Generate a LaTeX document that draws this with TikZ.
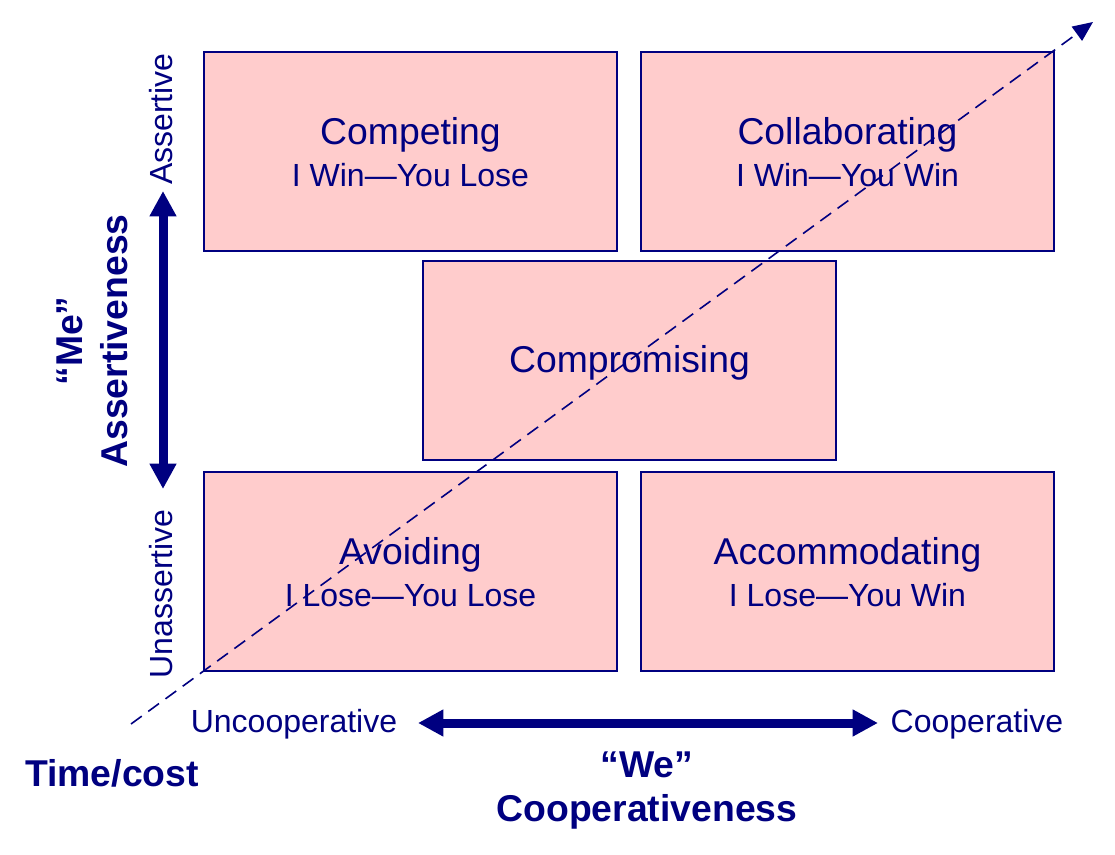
\documentclass[tikz,border=0pt]{standalone}
\usepackage{fontspec}
\setmainfont{Liberation Sans}
\usetikzlibrary{arrows.meta}
\definecolor{navy}{RGB}{0,0,128}
\definecolor{pinkfill}{RGB}{255,204,204}
\tikzset{
  qbox/.style={draw=navy, fill=pinkfill, line width=1.75pt, minimum width=309.75pt, minimum height=149.25pt, inner sep=0pt},
  titletext/.style={text=navy, font=\fontsize{28}{32}\selectfont, anchor=base, inner sep=0pt},
  subtext/.style={text=navy, font=\fontsize{24}{28}\selectfont, anchor=base, inner sep=0pt},
  smalllabel/.style={text=navy, font=\fontsize{24}{28}\selectfont, anchor=base, inner sep=0pt},
  boldlabel/.style={text=navy, font=\fontsize{28}{32}\selectfont\bfseries, anchor=base, inner sep=0pt},
  bigarrow/.style={draw=navy, line width=6.75pt, {Triangle[length=19pt,width=19pt]}-{Triangle[length=19pt,width=19pt]}},
  diagline/.style={draw=navy, line width=1.2pt, dash pattern=on 10pt off 6pt, -{Triangle[length=15pt,width=13pt]}}
}
\begin{document}
\begin{tikzpicture}[x=0.75pt,y=-0.75pt]
\useasboundingbox (0,0) rectangle (1115,855);
% boxes
\node[qbox] (compet) at (410.5,151.5) {};
\node[qbox] (collab) at (847.5,151.5) {};
\node[qbox] (compro) at (629.5,360.5) {};
\node[qbox] (avoid) at (410.5,571.5) {};
\node[qbox] (accom) at (847.5,571.5) {};
% box texts
\node[titletext] (competT) at (410.5,145) {Competing};
\node[subtext] (competS) at (410.5,187) {I Win—You Lose};
\node[titletext] (collabT) at (847.5,145) {Collaborating};
\node[subtext] (collabS) at (847.5,187) {I Win—You Win};
\node[titletext] (comproT) at (629.5,373) {Compromising};
\node[titletext] (avoidT) at (410.5,565) {Avoiding};
\node[subtext] (avoidS) at (410.5,607) {I Lose—You Lose};
\node[titletext] (accomT) at (847.5,565) {Accommodating};
\node[subtext] (accomS) at (847.5,607) {I Lose—You Win};
% diagonal
\coordinate (dstart) at (131,724);
\coordinate (dend) at (1093,22);
\draw[diagline] (dstart) -- (dend);
% vertical axis
\coordinate (vtop) at (163,191);
\coordinate (vbot) at (163,489);
\draw[bigarrow] (vbot) -- (vtop);
\node[smalllabel, rotate=90] (assert) at (172,119) {Assertive};
\node[smalllabel, rotate=90] (unassert) at (172,594) {Unassertive};
\node[boldlabel, rotate=90] (me) at (82,341) {“Me”};
\node[boldlabel, rotate=90] (assertness) at (127,341) {Assertiveness};
% horizontal axis
\coordinate (hleft) at (418,723);
\coordinate (hright) at (878,723);
\draw[bigarrow] (hleft) -- (hright);
\node[smalllabel] (uncoop) at (294,732) {Uncooperative};
\node[smalllabel] (coop) at (977,732) {Cooperative};
\node[boldlabel] (we) at (647,777) {“We”};
\node[boldlabel] (coopness) at (647,821) {Cooperativeness};
\node[boldlabel] (timecost) at (112,786) {Time/cost};
\end{tikzpicture}
\end{document}
